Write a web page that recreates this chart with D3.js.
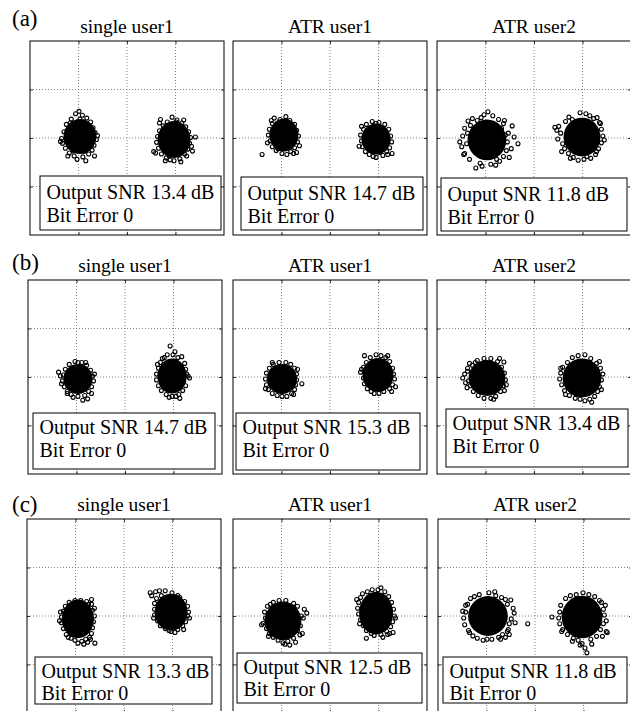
<!DOCTYPE html>
<html>
<head>
<meta charset="utf-8">
<script src="https://cdn.jsdelivr.net/npm/d3@7"></script>
<style>
  body { margin: 0; background: #fff; }
</style>
</head>
<body>
<div id="chart"></div>
<script>

// ---- data ----
const rowLabels = ["(a)", "(b)", "(c)"];
const panelTitles = ["single user1", "ATR user1", "ATR user2"];
const outputWord = [
  ["Output", "Output", "Ouput"],
  ["Output", "Output", "Output"],
  ["Output", "Output", "Output"]
];
const snrValues = [
  [13.4, 14.7, 11.8],
  [14.7, 15.3, 13.4],
  [13.3, 12.5, 11.8]
];
const bitErrors = [
  [0, 0, 0],
  [0, 0, 0],
  [0, 0, 0]
];
const axisDomain = [-2, 2];
const tickValues = [-1, 0, 1];

// symbol centres per panel (a1,a2,a3,b1,...), [left, right]
const clusterCenters = [
  [[-0.97, 0.03], [0.97, -0.03]],
  [[-0.95, 0.06], [0.95, -0.02]],
  [[-0.97, -0.04], [0.99, 0.02]],
  [[-0.97, -0.04], [0.97, 0.02]],
  [[-0.99, -0.04], [0.99, 0.04]],
  [[-0.97, -0.02], [0.99, -0.02]],
  [[-0.95, -0.06], [0.97, 0.08]],
  [[-0.97, -0.10], [0.95, 0.06]],
  [[-0.97, 0.00], [0.97, -0.02]]
];
// size of the dense (saturated) part of each cloud
const coreRadii = [
  [[0.34, 0.36], [0.34, 0.38]],
  [[0.30, 0.34], [0.30, 0.32]],
  [[0.40, 0.42], [0.38, 0.40]],
  [[0.30, 0.31], [0.30, 0.36]],
  [[0.31, 0.31], [0.32, 0.35]],
  [[0.38, 0.37], [0.40, 0.40]],
  [[0.33, 0.40], [0.34, 0.38]],
  [[0.38, 0.40], [0.35, 0.44]],
  [[0.41, 0.41], [0.42, 0.44]]
];
// received samples around each centre, dx,dy pairs in 1/100 units
const scatterOffsets = [
  [
    [-2,52, -9,47, 5,44, 14,38, -18,36, 22,30, -28,25, 27,18, -33,10, 31,8, -38,-4, 34,-6, -36,-14, 29,-18, -30,-24, 25,-28, -22,-34, 18,-36, -12,-40, 6,-42, 30,-40, -6,-47, 12,-50, -25,-40, 20,22, -20,28, 10,-30, -14,-30, 24,-12, -26,12, 0,36, 16,12, -16,-8, 36,2, -40,-10, 8,30],
    [-28,41, -4,46, 6,40, -14,36, 16,34, -22,28, 24,26, -30,18, 30,16, -34,6, 34,4, 44,5, -36,-6, 32,-8, -42,-25, -32,-18, 28,-20, -26,-30, 22,-30, -16,-38, 12,-40, 0,-44, -8,-42, 26,-34, 36,-14, -38,-28, 10,30, -10,-34, 18,-12, -20,8, 4,36, 20,40, -18,-44, 38,-24, -30,34, 14,-46]
  ],
  [
    [-45,-40, -20,35, 4,38, -8,32, 12,30, -24,24, 22,22, -30,12, 26,10, -32,0, 30,-2, -28,-12, 28,-14, -24,-24, 22,-26, -16,-32, 14,-34, -4,-38, 6,-40, 26,-36, -12,-28, 10,20, -18,-8, 18,4, 32,-22, -34,-16, 0,28, 16,-20, -26,30, 20,-38],
    [-35,-15, -8,36, 6,34, -20,30, 18,30, -26,20, 26,20, -32,8, 30,6, -30,-4, 32,-6, -28,-16, 28,-18, -22,-26, 22,-26, -14,-32, 14,-34, 0,-38, -6,-36, 33,-30, 10,24, -12,-20, 18,-8, -18,12, 0,32, 24,-32, -30,26, 8,-28]
  ],
  [
    [64,-8, 52,29, -23,-58, -56,-4, -39,39, 2,58, -30,44, 12,50, 24,42, -12,46, 34,34, -46,24, 44,14, -50,8, 42,-4, -52,-14, 40,-22, -46,-28, 34,-34, -36,-40, 26,-44, -14,-48, 8,-50, 18,-52, -48,-30, 50,-18, -6,52, 36,40, -40,14, 38,10, -20,40, 20,-40, -34,30, 30,24, 46,-36, -10,-54, 56,6, -42,-8],
    [-27,41, -56,20, -4,50, 43,2, 31,40, -48,22, -44,8, -50,-4, 16,44, 36,30, -40,-14, 40,-12, -36,-24, 34,-24, -28,-34, 28,-36, -18,-42, 18,-44, 4,-46, -8,-48, 40,16, -34,32, 24,38, -52,14, 46,-6, 10,-40, -20,36, 30,-30, -42,-30, 8,48, -24,-44, 38,28]
  ],
  [
    [-40,14, 20,-41, 10,-44, -6,36, 8,34, -18,30, 18,28, -26,20, 26,18, -30,8, 30,6, -32,-4, 32,-4, -28,-16, 28,-16, -22,-26, 22,-26, -14,-32, 14,-34, 0,-36, -34,-10, 16,34, -22,-30, 28,-30, 0,34, -10,-38, 34,10, -36,6],
    [-4,62, 20,40, 8,-42, 33,0, 6,50, -10,44, -16,38, 12,38, -24,28, 26,26, -28,16, 28,14, -32,4, 30,4, -32,-8, 36,-4, -28,-20, 28,-20, -22,-30, 22,-30, -12,-38, 14,-38, 0,-42, -6,-44, 16,-46, -20,36, 24,-10, -30,24, 2,44]
  ],
  [
    [41,-10, -6,34, 8,34, -18,30, 18,30, -26,22, 26,22, -32,12, 30,10, -34,0, 30,-2, -32,-12, 28,-12, -28,-22, 26,-22, -20,-30, 20,-30, -10,-34, 10,-36, 0,-36, -34,-20, 32,20, 24,-32, -20,34],
    [-28,40, -4,42, 6,40, -16,36, 16,36, -24,26, 24,28, -30,16, 30,14, -36,6, 32,2, -30,-6, 34,-8, -28,-18, 30,-20, -22,-28, 24,-28, -14,-34, 12,-34, 2,-38, -8,-38, 36,-24, 28,-34, -34,12, 20,40]
  ],
  [
    [-40,20, 35,33, -50,0, -41,-20, -46,8, -36,30, -6,40, 8,40, -20,36, 22,34, -30,26, 30,22, -40,14, 36,10, -38,-6, 38,-4, -34,-16, 34,-16, -28,-28, 28,-28, -18,-36, 18,-38, -6,-42, 8,-42, 36,-26, -44,-10, 14,-44, 40,-14, -24,32, 26,40],
    [6,-47, 43,8, -8,46, 6,48, -20,42, 18,40, -30,32, 30,30, -40,22, 38,20, -44,10, 40,-4, -46,-2, -42,-14, 36,-18, -36,-26, 32,-28, -26,-36, 26,-38, -14,-42, 16,-44, -4,-44, 40,-24, -44,20, 20,-50, -34,-34, 36,34]
  ],
  [
    [35,-50, 20,-48, 8,-46, -6,-44, 12,-52, -14,-40, 24,-38, -24,-32, 28,-30, -30,-20, 30,-18, -34,-8, 32,-6, -34,4, 34,6, -30,16, 30,18, -26,26, 28,30, -18,34, 18,36, -6,38, 6,38, 22,30, 34,22, -36,14, -38,-4, 26,-42, -20,-38, 0,-50, 16,-42, 28,40],
    [-43,40, -40,34, -32,42, -24,44, -12,44, 2,40, 18,30, 14,34, -30,28, 28,22, -34,18, 34,12, -34,6, 36,0, -34,-6, 34,-8, -28,-18, 30,-20, -22,-28, 24,-28, -12,-34, 14,-36, 0,-40, -4,-38, 26,-36, 8,-42, 38,-12, -36,-12, -20,34]
  ],
  [
    [-41,-5, 49,16, 35,-29, 0,-45, 44,24, 42,6, -8,42, 6,42, -20,38, 22,36, -32,30, 30,30, -38,18, 38,10, -36,6, -34,-16, 36,-10, -28,-26, 30,-20, -20,-34, 22,-36, -10,-40, 10,-42, 4,-48, -44,-8, 26,-44, -26,34, 14,-50, 40,-26, -30,-32],
    [10,52, -20,-52, 35,-40, 28,-42, -28,40, -18,44, -8,48, 4,48, 18,44, -32,32, 26,34, -36,22, 32,22, -38,10, 36,8, -36,-2, 38,-6, -32,-14, 34,-18, -26,-26, 30,-28, -20,-36, 22,-38, -10,-42, 10,-44, -4,-46, -40,28, 14,-50, 40,-10, -34,-22, 24,-44]
  ],
  [
    [82,-16, 47,33, -31,-41, -46,22, -36,36, 36,34, -38,-34, 52,16, 54,6, 48,-6, -18,44, 2,48, 16,42, 28,38, -28,40, -46,8, -50,-4, 44,-16, -48,-18, 42,-28, 30,-38, -22,-46, 22,-44, -10,-50, 8,-48, -40,-30, 36,-44, 44,-38, 56,-14, -42,24, 26,-48, -2,-48, 40,24, -52,10, 14,50, 40,-32],
    [-62,0, 10,-74, 0,-55, 50,-30, 6,-64, -4,-58, 52,-32, 42,-40, -44,24, -24,44, -12,46, 2,50, 14,46, 26,42, -34,38, 36,34, -46,10, 44,16, -48,-2, 46,4, -46,-14, 44,-14, -40,-26, 38,-26, -30,-36, 30,-40, -18,-44, 18,-46, -8,-48, 50,-8, 40,30, -42,-30, 48,24, -20,-50, 20,-56]
  ]
];

// ---- layout ----
const width = 630, height = 711;
const size = 194;
const serif = "'Liberation Serif', 'Times New Roman', Times, 'DejaVu Serif', serif";
const rowTops = [41, 280, 519];
const colLefts = [[30, 233, 437], [28, 233, 437], [27, 233, 438]];
const labelBase = [26, 270, 512];
// text box: dx, dy (from panel corner), w, h
const boxes = [
  [[10, 135, 181, 54], [8, 136, 182, 53], [4, 137, 186, 53]],
  [[5, 133, 182, 56], [3, 133, 184, 57], [9, 129, 182, 58]],
  [[8, 138, 177, 47], [4, 134, 185, 50], [5, 138, 184, 46]]
];
const lineOff = [[23, 46], [21, 44], [21, 43]];

let svg = d3.select("#chart")
  .append("svg")
  .attr("width", width)
  .attr("height", height)
  .attr("font-family", serif)
  .style("background-color", "#fff");

rowLabels.forEach(function(lab, r) {

  svg.append("text")
    .attr("x", 12)
    .attr("y", labelBase[r])
    .attr("font-family", serif)
    .attr("font-size", 23)
    .text(lab);

  panelTitles.forEach(function(title, c) {
    let k = r * 3 + c;
    let left = colLefts[r][c], top = rowTops[r];

    let x = d3.scaleLinear().domain(axisDomain).range([left, left + size]);
    let y = d3.scaleLinear().domain(axisDomain).range([top + size, top]);

    let g = svg.append("g").attr("class", "panel");

    g.append("text")
      .attr("x", left + size / 2)
      .attr("y", top - 8.5)
      .attr("text-anchor", "middle")
      .attr("font-family", serif)
      .attr("font-size", 19.5)
      .text(title);

    // dotted grid
    let grid = g.append("g")
      .attr("stroke", "#666")
      .attr("stroke-width", 0.8)
      .attr("stroke-dasharray", "1,2");
    grid.selectAll(".vx")
      .data(tickValues)
      .enter()
      .append("line")
      .attr("x1", d => x(d)).attr("x2", d => x(d))
      .attr("y1", top).attr("y2", top + size);
    grid.selectAll(".hy")
      .data(tickValues)
      .enter()
      .append("line")
      .attr("y1", d => y(d)).attr("y2", d => y(d))
      .attr("x1", left).attr("x2", left + size);

    // clouds
    clusterCenters[k].forEach(function(ctr, j) {
      let rr = coreRadii[k][j];
      g.append("ellipse")
        .attr("cx", x(ctr[0]))
        .attr("cy", y(ctr[1]))
        .attr("rx", x(ctr[0] + rr[0]) - x(ctr[0]))
        .attr("ry", y(ctr[1]) - y(ctr[1] + rr[1]))
        .attr("fill", "#000");

      let offs = scatterOffsets[k][j];
      let pts = d3.range(0, offs.length, 2).map(i => [ctr[0] + offs[i] / 100, ctr[1] + offs[i + 1] / 100]);
      g.append("g")
        .selectAll("circle")
        .data(pts)
        .enter()
        .append("circle")
        .attr("cx", d => x(d[0]))
        .attr("cy", d => y(d[1]))
        .attr("r", 2)
        .attr("fill", "none")
        .attr("stroke", "#000")
        .attr("stroke-width", 1.1);
    });

    // inner tick marks on all four sides
    let axes = [
      [d3.axisBottom(x), `translate(0,${top + size})`],
      [d3.axisTop(x), `translate(0,${top})`],
      [d3.axisLeft(y), `translate(${left},0)`],
      [d3.axisRight(y), `translate(${left + size},0)`]
    ];
    axes.forEach(function(a) {
      let ax = g.append("g")
        .attr("transform", a[1])
        .call(a[0].tickValues(tickValues).tickSize(-3).tickFormat(""));
      ax.select(".domain").remove();
      ax.selectAll("line").attr("stroke-width", 0.8);
    });

    // annotation box
    let b = boxes[r][c];
    let bx = left + b[0], by = top + b[1];
    g.append("rect")
      .attr("x", bx).attr("y", by)
      .attr("width", b[2]).attr("height", b[3])
      .attr("fill", "#fff")
      .attr("stroke", "#000")
      .attr("stroke-width", 1);
    g.append("text")
      .attr("x", bx + 6.5)
      .attr("y", by + lineOff[r][0])
      .attr("font-family", serif)
      .attr("font-size", 20)
      .text(`${outputWord[r][c]} SNR ${snrValues[r][c].toFixed(1)} dB`);
    g.append("text")
      .attr("x", bx + 6.5)
      .attr("y", by + lineOff[r][1])
      .attr("font-family", serif)
      .attr("font-size", 20)
      .text(`Bit Error ${bitErrors[r][c]}`);

    // frame
    g.append("rect")
      .attr("x", left).attr("y", top)
      .attr("width", size).attr("height", size)
      .attr("fill", "none")
      .attr("stroke", "#000")
      .attr("stroke-width", 1);
  });
});

</script>
</body>
</html>
